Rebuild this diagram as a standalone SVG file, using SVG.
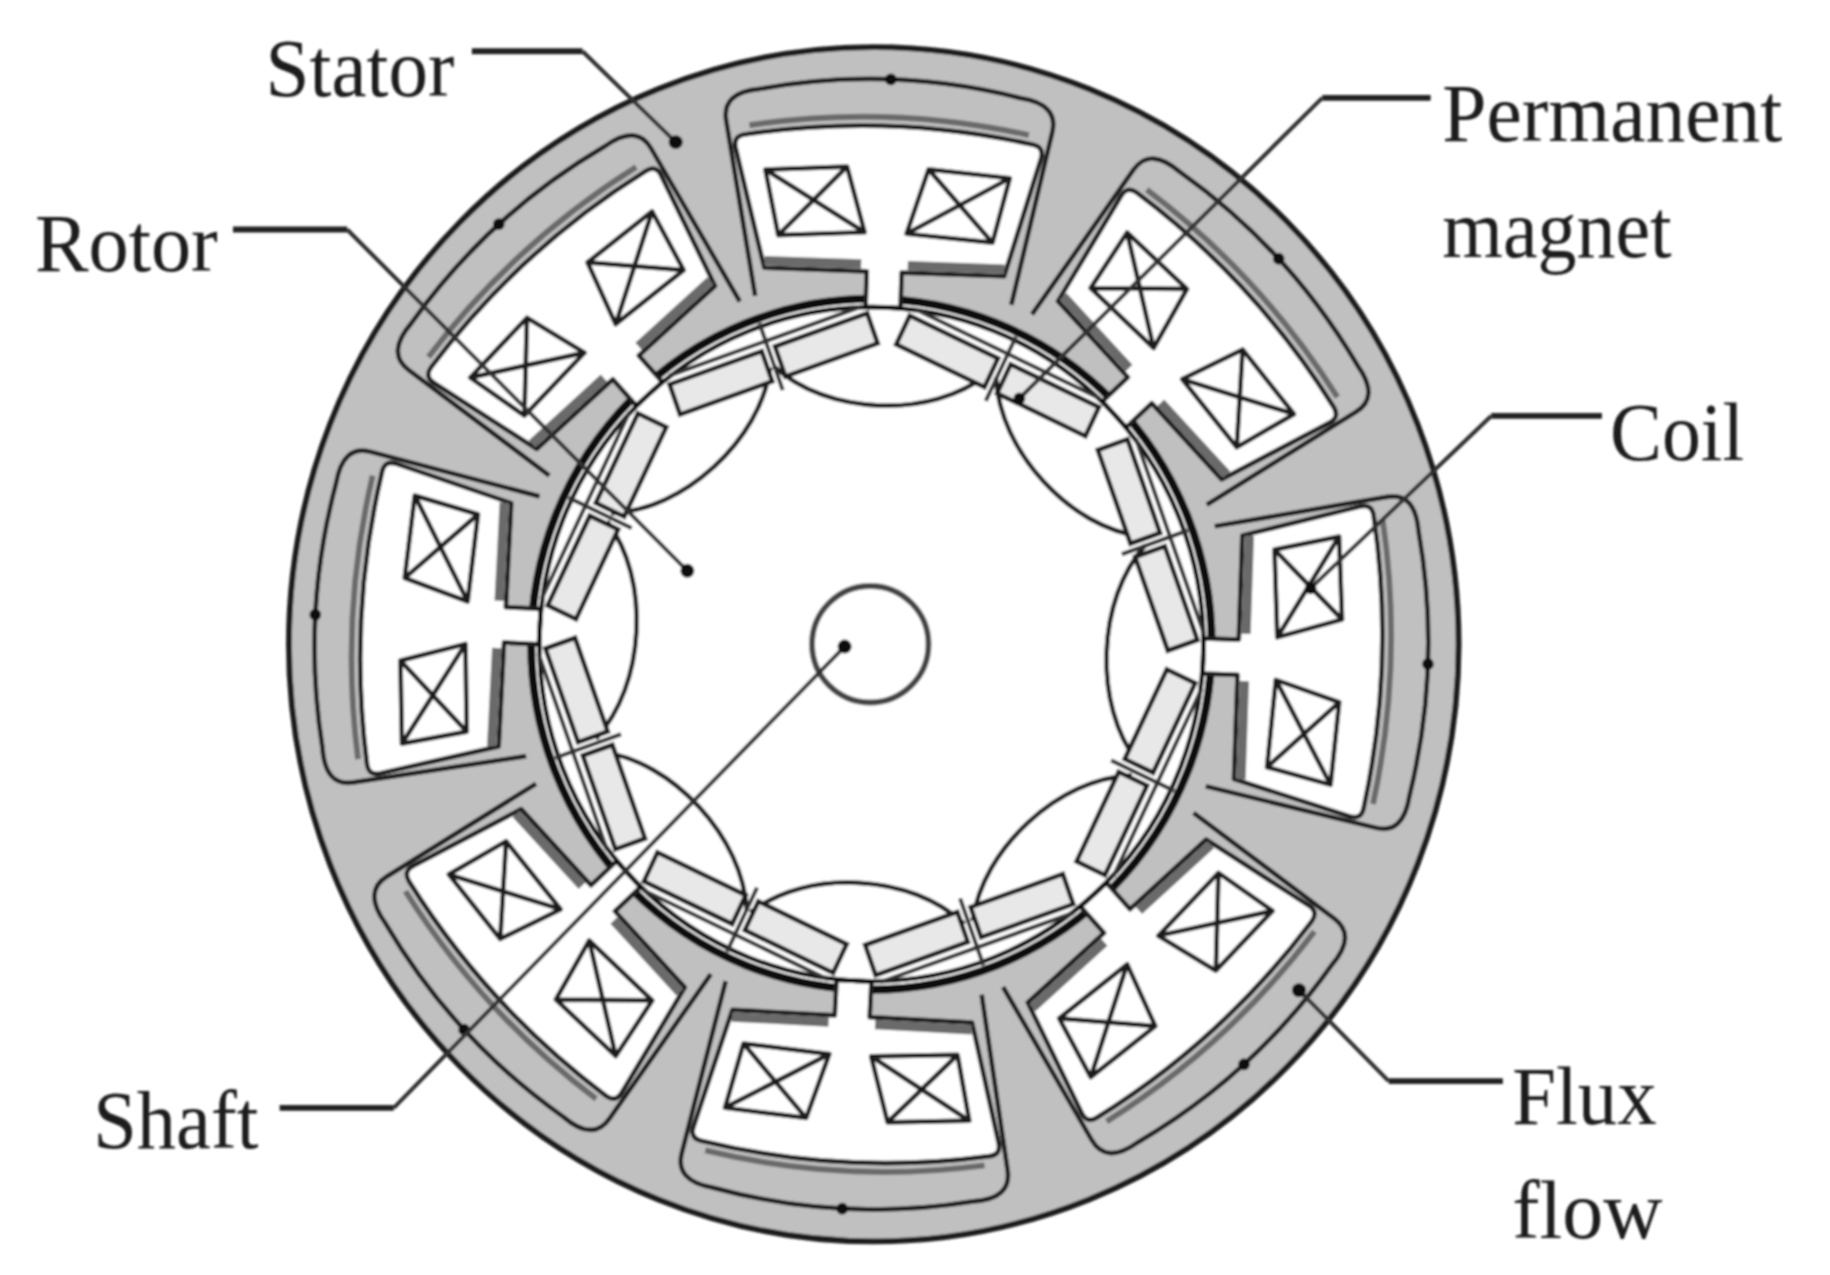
<svg xmlns="http://www.w3.org/2000/svg" xmlns:xlink="http://www.w3.org/1999/xlink" width="1830" height="1275" viewBox="0 0 1830 1275">
<style>
.ln{fill:none;stroke:#1c1c1c;stroke-width:4}
.thick{fill:none;stroke:#111;stroke-width:4}
.band{fill:none;stroke:#6a6a6a;stroke-width:8}
.slot{fill:#fff;stroke:#1c1c1c;stroke-width:4;stroke-linejoin:round}
.coil{fill:#fff;stroke:#1c1c1c;stroke-width:4;stroke-linejoin:round}
.mag{fill:#e8e8e8;stroke:#1c1c1c;stroke-width:4}
.lead{fill:none;stroke:#333;stroke-width:3.5}
.tail{fill:none;stroke:#222;stroke-width:5}
.dot{fill:#111}
text{font-family:"Liberation Serif","Times New Roman",serif;font-size:70px;fill:#1a1a1a}
</style>
<defs>
<filter id="soft" x="0" y="0" width="100%" height="100%" filterUnits="objectBoundingBox"><feGaussianBlur stdDeviation="0.8"/></filter>
<g id="slotShape">
<path class="ln" d="M-110,-291 L-140,-438 Q-145,-462 -112,-466 Q0,-490 112,-466 Q145,-462 140,-438 L110,-291"/>
<circle class="dot" cx="0" cy="-478" r="5"/>
<path class="slot" d="M-124,-427 Q0,-450 124,-427 Q134,-425 131,-415 L103,-315 L15,-315 L15,-285 L-15,-285 L-15,-315 L-103,-315 L-131,-415 Q-134,-425 -124,-427 Z"/>
<path class="band" d="M-103,-321 L-20,-321 M20,-321 L103,-321"/>
<path class="band" d="M-120,-435 Q0,-457 120,-435" style="stroke-width:5"/>
</g>
<g id="coilPair">
<path class="coil" d="M-105,-398 L-35,-403 L-18,-348 L-92,-343 Z M-105,-398 L-18,-348 M-35,-403 L-92,-343"/>
<path class="coil" d="M105,-398 L35,-403 L18,-348 L92,-343 Z M105,-398 L18,-348 M35,-403 L92,-343"/>
</g>
<g id="pole">
<path class="lead" d="M-88,-272 L88,-272 M0,-288 L0,-228"/>
<rect class="mag" x="-90" y="-265" width="84" height="27"/>
<rect class="mag" x="6" y="-265" width="84" height="27"/>
</g>
<path id="rotorFlux" class="ln" d="M-92,-232 C-68,-212 -35,-202 0,-202 C35,-202 68,-212 92,-232"/>
</defs>
<g transform="scale(1.165)" filter="url(#soft)">
<g id="stator" transform="translate(748,553) scale(1,1.015)">
<ellipse cx="2" cy="0" rx="502" ry="505" fill="#c0c0c0" stroke="#1c1c1c" stroke-width="5"/>
<circle cx="0" cy="0" r="292" fill="#fff" stroke="#111" stroke-width="7"/>
<use xlink:href="#slotShape" href="#slotShape" transform="rotate(2)"/>
<use xlink:href="#slotShape" href="#slotShape" transform="rotate(47)"/>
<use xlink:href="#slotShape" href="#slotShape" transform="rotate(92)"/>
<use xlink:href="#slotShape" href="#slotShape" transform="rotate(138)"/>
<use xlink:href="#slotShape" href="#slotShape" transform="rotate(183)"/>
<use xlink:href="#slotShape" href="#slotShape" transform="rotate(227)"/>
<use xlink:href="#slotShape" href="#slotShape" transform="rotate(273)"/>
<use xlink:href="#slotShape" href="#slotShape" transform="rotate(318)"/>
</g>
<g id="coils" transform="translate(748,553) scale(1,1.015)">
<use xlink:href="#coilPair" href="#coilPair" transform="rotate(2)"/>
<use xlink:href="#coilPair" href="#coilPair" transform="rotate(47)"/>
<use xlink:href="#coilPair" href="#coilPair" transform="rotate(92)"/>
<use xlink:href="#coilPair" href="#coilPair" transform="rotate(138)"/>
<use xlink:href="#coilPair" href="#coilPair" transform="rotate(183)"/>
<use xlink:href="#coilPair" href="#coilPair" transform="rotate(227)"/>
<use xlink:href="#coilPair" href="#coilPair" transform="rotate(273)"/>
<use xlink:href="#coilPair" href="#coilPair" transform="rotate(318)"/>
</g>
<g id="flux-flow" transform="translate(748,553) scale(1,1.015)">
<use xlink:href="#rotorFlux" href="#rotorFlux" transform="rotate(2)"/>
<use xlink:href="#rotorFlux" href="#rotorFlux" transform="rotate(47)"/>
<use xlink:href="#rotorFlux" href="#rotorFlux" transform="rotate(92)"/>
<use xlink:href="#rotorFlux" href="#rotorFlux" transform="rotate(138)"/>
<use xlink:href="#rotorFlux" href="#rotorFlux" transform="rotate(183)"/>
<use xlink:href="#rotorFlux" href="#rotorFlux" transform="rotate(227)"/>
<use xlink:href="#rotorFlux" href="#rotorFlux" transform="rotate(273)"/>
<use xlink:href="#rotorFlux" href="#rotorFlux" transform="rotate(318)"/>
</g>
<g id="rotor" transform="translate(748,553) scale(1,1.015)">
<circle class="thick" r="285"/>
<use xlink:href="#pole" href="#pole" transform="rotate(25.5)"/>
<use xlink:href="#pole" href="#pole" transform="rotate(70.5)"/>
<use xlink:href="#pole" href="#pole" transform="rotate(115.5)"/>
<use xlink:href="#pole" href="#pole" transform="rotate(160.5)"/>
<use xlink:href="#pole" href="#pole" transform="rotate(205.5)"/>
<use xlink:href="#pole" href="#pole" transform="rotate(250.5)"/>
<use xlink:href="#pole" href="#pole" transform="rotate(295.5)"/>
<use xlink:href="#pole" href="#pole" transform="rotate(340.5)"/>
</g>
<g id="shaft"><circle cx="747" cy="553" r="50" fill="none" stroke="#444" stroke-width="5"/></g>
<g id="connectors">
<path class="tail" d="M405,44 H500"/><path class="lead" d="M500,44 L580,122"/><circle class="dot" cx="580" cy="122" r="6"/>
<path class="tail" d="M200,197 H298"/><path class="lead" d="M298,197 L590,490"/><circle class="dot" cx="590" cy="490" r="6"/>
<path class="tail" d="M1228,84 H1135"/><path class="lead" d="M1135,84 L875,342"/><circle class="dot" cx="875" cy="342" r="5"/>
<path class="tail" d="M1375,357 H1280"/><path class="lead" d="M1280,357 L1125,505"/><circle class="dot" cx="1125" cy="505" r="5"/>
<path class="tail" d="M240,951 H338"/><path class="lead" d="M338,951 L725,555"/><circle class="dot" cx="725" cy="555" r="6"/>
<path class="tail" d="M1290,928 H1192"/><path class="lead" d="M1192,928 L1115,850"/><circle class="dot" cx="1115" cy="850" r="6"/>
</g>
<g id="labels">
<text x="228" y="82" textLength="162" lengthAdjust="spacingAndGlyphs">Stator</text>
<text x="30" y="233" textLength="157" lengthAdjust="spacingAndGlyphs">Rotor</text>
<text x="1238" y="121" textLength="292" lengthAdjust="spacingAndGlyphs">Permanent</text>
<text x="1238" y="221" textLength="197" lengthAdjust="spacingAndGlyphs">magnet</text>
<text x="1382" y="395" textLength="115" lengthAdjust="spacingAndGlyphs">Coil</text>
<text x="80" y="985" textLength="142" lengthAdjust="spacingAndGlyphs">Shaft</text>
<text x="1298" y="965" textLength="124" lengthAdjust="spacingAndGlyphs">Flux</text>
<text x="1298" y="1063" textLength="129" lengthAdjust="spacingAndGlyphs">flow</text>
</g>
</g>
</svg>
